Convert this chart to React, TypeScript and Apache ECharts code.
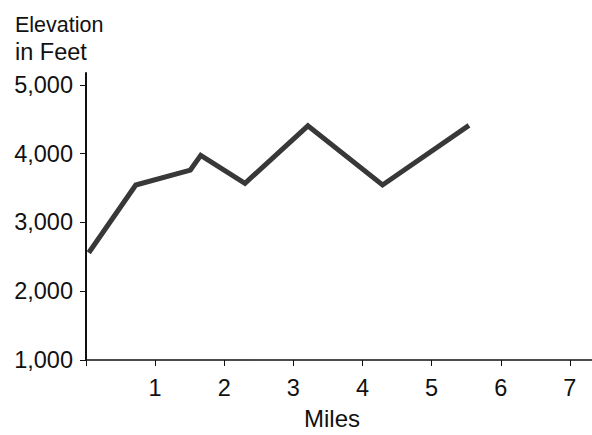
import React, { useEffect, useRef } from "react";
import * as echarts from "echarts";

const miles = [0.04, 0.72, 1.51, 1.66, 2.3, 3.21, 4.29, 5.54];
const elevationFeet = [2560, 3545, 3762, 3975, 3570, 4405, 3545, 4412];
const xTickValues = [0, 1, 2, 3, 4, 5, 6, 7];
const xLabelValues = [1, 2, 3, 4, 5, 6, 7];
const yTickValues = [1000, 2000, 3000, 4000, 5000];
const titleLine1 = "Elevation";
const titleLine2 = "in Feet";
const xName = "Miles";

const FONT = "'Liberation Sans', Arial, Helvetica, sans-serif";
const INK = "#111";

export default function App() {
  const ref = useRef<HTMLDivElement>(null);
  useEffect(() => {
    if (!ref.current) return;
    const chart = echarts.init(ref.current, undefined, { renderer: "svg" });
    chart.setOption({
      animation: false,
      backgroundColor: "#fff",
      title: {
        text: `{a|${titleLine1}}\n{b|${titleLine2}}`,
        left: 10,
        top: 6,
        textStyle: {
          fontFamily: FONT,
          fontWeight: "normal",
          color: INK,
          rich: {
            a: { fontFamily: FONT, fontSize: 21.5, lineHeight: 27, color: INK },
            b: { fontFamily: FONT, fontSize: 23.5, lineHeight: 27, color: INK },
          },
        },
      },
      grid: { left: 86, right: 0, top: 73, bottom: 73, containLabel: false },
      xAxis: {
        type: "value",
        min: 0,
        max: 7.32,
        name: xName,
        nameLocation: "middle",
        nameGap: 46,
        nameTextStyle: {
          fontFamily: FONT,
          fontSize: 24,
          color: INK,
          padding: [0, 14, 0, 0],
        },
        axisLine: { show: true, lineStyle: { color: INK, width: 1.5 } },
        axisTick: {
          show: true,
          length: 6,
          customValues: xTickValues,
          lineStyle: { color: INK, width: 1 },
        },
        axisLabel: {
          customValues: xLabelValues,
          fontFamily: FONT,
          fontSize: 23.5,
          color: INK,
          margin: 16,
        },
        splitLine: { show: false },
      },
      yAxis: {
        type: "value",
        min: 1000,
        max: 5173,
        axisLine: { show: true, lineStyle: { color: INK, width: 2 } },
        axisTick: {
          show: true,
          length: 6,
          customValues: yTickValues,
          lineStyle: { color: INK, width: 1 },
        },
        axisLabel: {
          customValues: yTickValues,
          fontFamily: FONT,
          fontSize: 23.5,
          color: INK,
          margin: 13,
          formatter: (v: number) => v.toLocaleString("en-US"),
        },
        splitLine: { show: false },
      },
      series: [
        {
          type: "line",
          data: miles.map((m, i) => [m, elevationFeet[i]]),
          showSymbol: false,
          symbol: "none",
          lineStyle: { color: "#383838", width: 5, join: "miter", cap: "butt" },
        },
      ],
    });
    return () => chart.dispose();
  }, []);
  return (
    <div
      ref={ref}
      style={{ position: "fixed", left: 0, top: 0, width: 592, height: 435 }}
    />
  );
}
